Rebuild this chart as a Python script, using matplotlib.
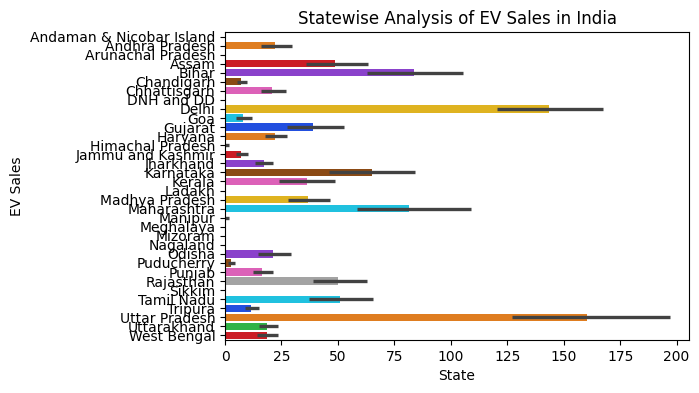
import matplotlib
matplotlib.use("Agg")
import matplotlib.pyplot as plt
import seaborn as sns

states = ["Andaman & Nicobar Island", "Andhra Pradesh", "Arunachal Pradesh", "Assam", "Bihar",
          "Chandigarh", "Chhattisgarh", "DNH and DD", "Delhi", "Goa", "Gujarat", "Haryana",
          "Himachal Pradesh", "Jammu and Kashmir", "Jharkhand", "Karnataka", "Kerala", "Ladakh",
          "Madhya Pradesh", "Maharashtra", "Manipur", "Meghalaya", "Mizoram", "Nagaland", "Odisha",
          "Puducherry", "Punjab", "Rajasthan", "Sikkim", "Tamil Nadu", "Tripura", "Uttar Pradesh",
          "Uttarakhand", "West Bengal"]

# mean EV sales per state, with the 95% CI ends shown in the chart
sales = [0, 22.0, 0, 48.6, 83.6, 6.9, 20.7, 0, 143.4, 7.8, 38.8, 22.0, 0.6, 6.9, 17.1, 65.0, 36.2, 0,
         36.6, 81.4, 0.5, 0, 0, 0, 21.1, 2.5, 16.2, 49.9, 0, 50.8, 11.4, 160.3, 18.5, 18.5]
ci_low = [0, 15.8, 0, 35.7, 62.8, 5.2, 15.8, 0, 120.4, 4.7, 27.3, 17.6, 0, 4.7, 13.1, 45.9, 23.8, 0,
          27.8, 58.3, 0, 0, 0, 0, 14.5, 1.2, 12.3, 38.8, 0, 37.1, 8.7, 127.0, 14.9, 14.0]
ci_high = [0, 29.5, 0, 63.2, 105.3, 9.6, 26.9, 0, 167.4, 11.8, 52.6, 27.3, 1.6, 10.0, 21.1, 84.0, 48.6, 0,
           46.4, 108.9, 1.6, 0, 0, 0, 29.1, 4.3, 21.1, 62.8, 0, 65.4, 14.9, 197.0, 23.3, 23.3]

colors = sns.color_palette("bright", 10, desat=0.75)
bar_colors = [colors[i % 10] for i in range(len(states))]

fig = plt.figure(figsize=(6.99, 3.93), dpi=100)
ax = fig.add_axes([0.3219, 0.1349, 0.6638, 0.7837])

ypos = list(range(len(states)))
ax.barh(ypos, sales, height=0.8, color=bar_colors)
for y, lo, hi in zip(ypos, ci_low, ci_high):
    if hi > lo:
        ax.plot([lo, hi], [y, y], color="#424242", lw=2.4, solid_capstyle="butt")

ax.set_yticks(ypos)
ax.set_yticklabels(states)
ax.set_ylim(len(states) - 0.5, -0.5)
ax.set_xlim(0, 205.5)
ax.set_xticks([0, 25, 50, 75, 100, 125, 150, 175, 200])
ax.set_xlabel("State")
ax.set_ylabel("EV Sales")
ax.set_title("Statewise Analysis of EV Sales in India")

fig.savefig("out.png", dpi=100)
